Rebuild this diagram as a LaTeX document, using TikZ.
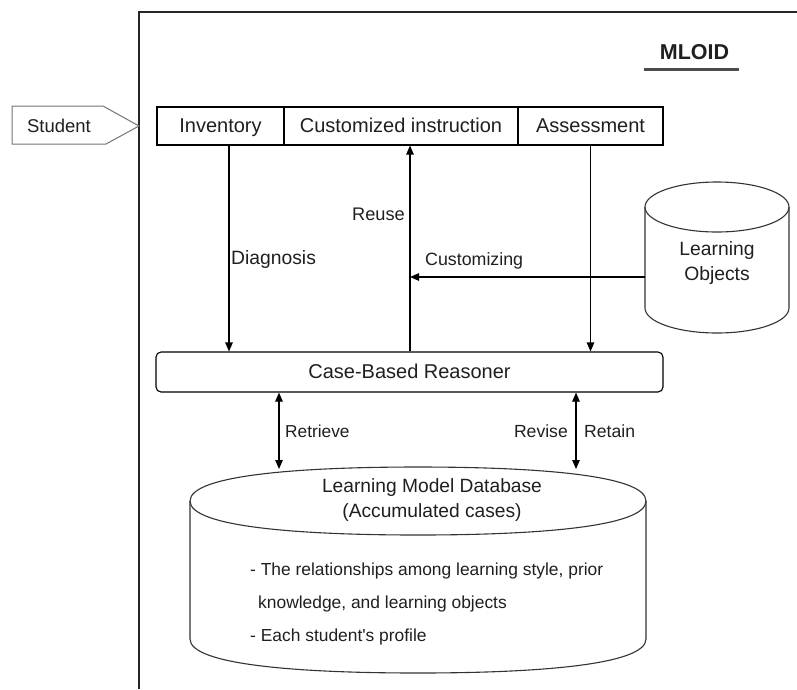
\documentclass[tikz,border=0pt]{standalone}
\usepackage{fontspec}
\setmainfont{Liberation Sans}
\usetikzlibrary{arrows.meta}
\newcommand{\fsz}[1]{\fontsize{#1}{25}\selectfont}
\begin{document}
\begin{tikzpicture}[x=1pt,y=-1pt,
  every node/.style={font=\fsz{18.5}, text=black!88, inner sep=0pt},
  lbl/.style={text height=15pt, text depth=2pt},
  boxpart/.style={draw, line width=1.1pt, minimum height=38pt, font=\fsz{20}, lbl},
  arr/.style={line width=1.1pt, -{Triangle[length=9pt,width=7.5pt]}},
  darr/.style={line width=1.1pt, {Triangle[length=9pt,width=7.5pt]}-{Triangle[length=9pt,width=7.5pt]}},
  shapeline/.style={line width=1.1pt, draw=black!80}]
\useasboundingbox (0,0) rectangle (797,689);

% outer frame (open to the right and bottom)
\draw[line width=1.4pt, black!85] (139,689) -- (139,12) -- (797,12);

% title
\node[font=\fsz{21.5}\bfseries] (title) at (694.5,52) {MLOID};
\draw[line width=3pt, black!70] (644,69) -- (739,69);

% student input arrow
\draw[line width=1pt, black!55] (12,106) -- (103,106) -- (139,126) -- (106,144) -- (12,144) -- cycle;
\node[lbl] (student) at (59,126) {Student};

% top row of the interface
\node[boxpart, minimum width=127pt] (inv) at (220.5,126) {Inventory};
\node[boxpart, minimum width=234pt] (ci) at (401,126) {Customized instruction};
\node[boxpart, minimum width=145pt] (asm) at (590.5,126) {Assessment};

% reasoner
\node[draw, line width=1.1pt, rounded corners=5pt, minimum width=507pt, minimum height=40pt, font=\fsz{20}, lbl] (cbr) at (409.5,372) {Case-Based Reasoner};

% learning objects store
\draw[shapeline] (645,207) .. controls (645,193.2) and (677.2,182) .. (717,182)
  .. controls (756.8,182) and (789,193.2) .. (789,207)
  .. controls (789,220.8) and (756.8,232) .. (717,232)
  .. controls (677.2,232) and (645,220.8) .. (645,207) -- cycle;
\draw[shapeline] (645,207) -- (645,308) .. controls (645,321.8) and (677.2,333) .. (717,333)
  .. controls (756.8,333) and (789,321.8) .. (789,308) -- (789,207);
\node[minimum width=144pt, minimum height=151pt] (lo) at (717,257.5) {};
\node[align=center, font=\fsz{19.3}] (lotxt) at (717,263) {Learning\\Objects};

% learning model database
\draw[shapeline] (190,501) .. controls (190,475) and (300,467) .. (418,467)
  .. controls (536,467) and (646,475) .. (646,501)
  .. controls (646,527) and (536,535) .. (418,535)
  .. controls (300,535) and (190,527) .. (190,501) -- cycle;
\draw[shapeline] (190,501) -- (190,639) .. controls (190,665) and (300,673) .. (418,673)
  .. controls (536,673) and (646,665) .. (646,639) -- (646,501);
\node[minimum width=456pt, minimum height=206pt] (db) at (418,570) {};
\node[align=center, font=\fsz{19.2}] (dbtitle) at (432,500.5) {Learning Model Database\\(Accumulated cases)};
\node[lbl, anchor=west, font=\fsz{17.4}] (db1) at (250,569) {- The relationships among learning style, prior};
\node[lbl, anchor=west, font=\fsz{17.4}] (db2) at (258,602) {knowledge, and learning objects};
\node[lbl, anchor=west, font=\fsz{17.4}] (db3) at (250,635) {- Each student\textquotesingle s profile};

% connector reference points
\coordinate (ru) at (410,0);
\coordinate (cz) at (645,277);
\coordinate (rtb) at (279,469);
\coordinate (rvb) at (576,469);

% connectors
\draw[arr] ([xshift=8.5pt]inv.south) -- ([xshift=8.5pt]inv.south |- cbr.north);
\draw[arr] (cbr.north -| ru) -- (ci.south -| ru);
\draw[arr] (asm.south) -- (asm.south |- cbr.north);
\draw[arr] (cz) -- (cz -| ru);
\draw[darr] (cbr.south -| rtb) -- (rtb);
\draw[darr] (cbr.south -| rvb) -- (rvb);

% connector labels
\node[lbl, anchor=west, font=\fsz{19.3}] (ldiag) at (231,258) {Diagnosis};
\node[lbl, anchor=east, font=\fsz{18.2}] (lreuse) at (405,214) {Reuse};
\node[lbl, anchor=west, font=\fsz{17.8}] (lcust) at (425,259) {Customizing};
\node[lbl, anchor=west, font=\fsz{17.3}] (lretr) at (285,431) {Retrieve};
\node[lbl, anchor=east, font=\fsz{17.6}] (lrevi) at (568,431) {Revise};
\node[lbl, anchor=west, font=\fsz{17.6}] (lreta) at (584,431) {Retain};
\end{tikzpicture}
\end{document}
